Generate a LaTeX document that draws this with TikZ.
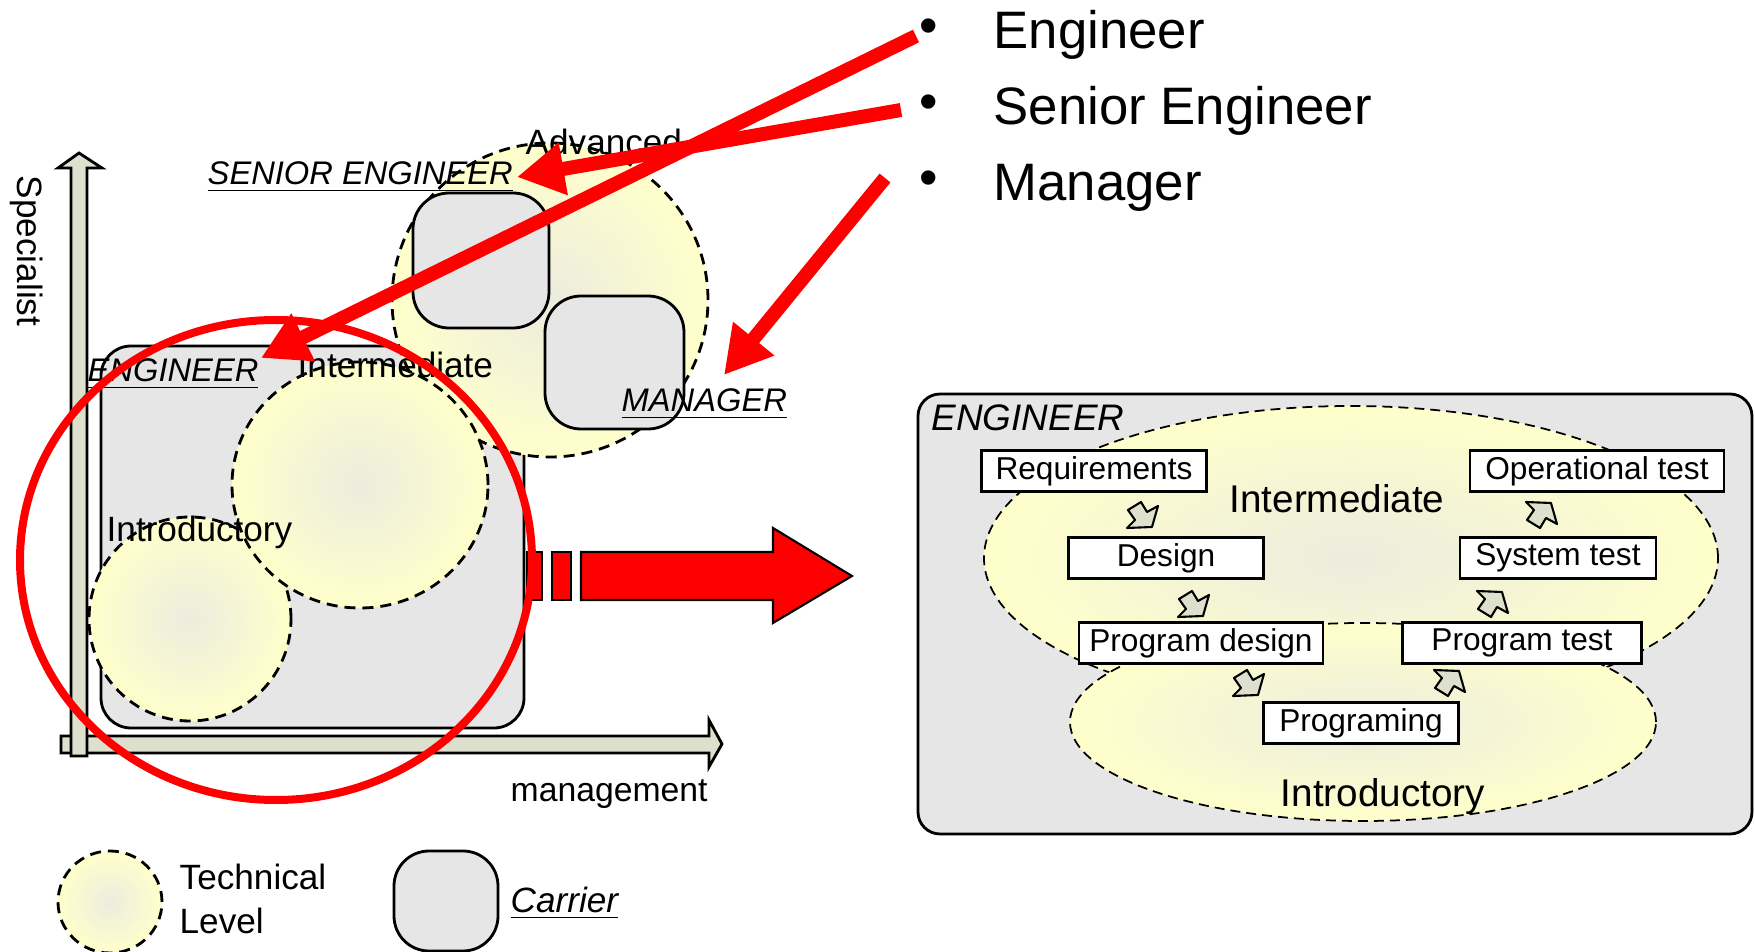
\documentclass[tikz,border=0pt]{standalone}
\usepackage{fontspec}
\setmainfont{Liberation Sans}
\usetikzlibrary{arrows.meta}
\definecolor{carriergray}{RGB}{230,230,230}
\definecolor{leveledge}{RGB}{255,255,204}
\definecolor{levelcore}{RGB}{236,236,222}
\definecolor{axisfill}{RGB}{221,224,204}
\tikzset{
  carrier/.style={draw, line width=0.8pt, fill=carriergray, rounded corners=3.6mm},
  level/.style={draw, line width=0.8pt, dash pattern=on 1.1mm off 0.7mm, inner color=levelcore, outer color=leveledge},
  levelthin/.style={draw, line width=0.5pt, dash pattern=on 1mm off 0.6mm, inner color=levelcore, outer color=leveledge},
  axis/.style={draw, line width=0.8pt, fill=axisfill},
  redarrow/.style={draw=red, line width=1.4mm, -{Triangle[length=4.7mm,width=5mm]}},
  blockred/.style={draw, line width=0.6pt, fill=red},
  stepbox/.style={draw, fill=white, line width=0.6pt, inner sep=0pt, minimum height=4.1mm, font=\fontsize{9}{10}\selectfont},
  rolelbl/.style={font=\fontsize{9.3}{11}\selectfont\itshape, inner sep=0pt, anchor=base west},
  lbl/.style={font=\fontsize{10}{12}\selectfont, inner sep=0pt, anchor=base west},
  bigitem/.style={font=\fontsize{15}{18}\selectfont, inner sep=0pt, anchor=base west},
  flow/.style={draw, line width=0.6pt, fill=axisfill, line join=round},
  pics/flowdn/.style={code={\path[flow] (-14,-5) -- (-1,-13) -- (5,-3) -- (16,-9) -- (10,12) -- (-15,13) -- (-7,5) -- cycle;}},
  pics/flowup/.style={code={\path[flow] (-14,5) -- (-1,13) -- (5,3) -- (16,9) -- (10,-12) -- (-15,-13) -- (-7,-5) -- cycle;}}
}
\newcommand{\roleline}[1]{\underline{#1}}
\begin{document}
\begin{tikzpicture}[x=0.1mm,y=-0.1mm]
        \useasboundingbox (0,0) rectangle (1755,952);

        \path[carrier, rounded corners=3mm] (101,346) rectangle (524,728);
        \path[level] (550,300) ellipse [x radius=15.8mm, y radius=15.7mm];
        \path[carrier] (413,193) rectangle (549,328);
        \path[carrier] (545,296) rectangle (684,429);
        \path[level] (190,619) ellipse [x radius=10.1mm, y radius=10.2mm];
        \path[level] (360,485) ellipse [x radius=12.8mm, y radius=12.3mm];

        \path[axis] (61,736) -- (709,736) -- (709,720) -- (722,744) -- (709,767) -- (709,753) -- (61,753) -- cycle;
        \path[axis] (71,756) -- (71,168) -- (58,168) -- (79,153) -- (102,168) -- (87,168) -- (87,756) -- cycle;

        \node[rolelbl] (lblSen) at (207,185) {\roleline{SENIOR ENGINEER}};
        \node[rolelbl] (lblEng) at (87,382) {\roleline{ENGINEER}};
        \node[rolelbl] (lblMan) at (621,412) {\roleline{MANAGER}};
        \node[lbl] (lblAdv) at (525,155) {Advanced};
        \node[lbl] (lblInt) at (297,378) {Intermediate};
        \node[lbl] (lblIntro) at (106,542) {Introductory};
        \node[lbl, font=\fontsize{9.6}{12}\selectfont] (lblMgmt) at (510,802) {management};
        \node[lbl, rotate=-90, anchor=center] (lblSpec) at (27,251) {Specialist};

        \path[level] (110,902) ellipse [x radius=5.2mm, y radius=5.1mm];
        \node[lbl] (lgTech) at (179,890) {Technical};
        \node[lbl] (lgLevel) at (179,933) {Level};
        \path[carrier, rounded corners=3.5mm] (394,851) rectangle (498,951);
        \node[lbl, font=\fontsize{10}{12}\selectfont\itshape] (lgCar) at (510,912) {\roleline{Carrier}};

        \path[blockred] (527,552) rectangle (542,600);
        \path[blockred] (552,552) rectangle (571,600);
        \path[blockred] (581,552) -- (773,552) -- (773,528) -- (852,576) -- (773,623) -- (773,600) -- (581,600) -- cycle;
        \draw[red, line width=0.8mm] (276,560) ellipse [x radius=25.6mm, y radius=24.0mm];

        \path[carrier, rounded corners=2.2mm] (918,394) rectangle (1752,834);
        \path[levelthin] (1351,558) ellipse [x radius=36.7mm, y radius=15.2mm];
        \path[levelthin] (1363,722) ellipse [x radius=29.3mm, y radius=9.9mm];
        \node[font=\fontsize{10.5}{12}\selectfont\itshape, inner sep=0pt, anchor=base west] (rEng) at (931,431) {ENGINEER};
        \node[font=\fontsize{11}{13}\selectfont, inner sep=0pt, anchor=base] (rInt) at (1337,513) {Intermediate};
        \node[font=\fontsize{11}{13}\selectfont, inner sep=0pt, anchor=base] (rIntro) at (1383,807) {Introductory};

        \node[stepbox, minimum width=22.5mm] (req)   at (1094,471) {Requirements};
        \node[stepbox, minimum width=19.5mm] (des)   at (1166,558) {Design};
        \node[stepbox, minimum width=24.4mm] (pdes)  at (1201,643) {Program design};
        \node[stepbox, minimum width=19.5mm] (prog)  at (1361,723) {Programing};
        \node[stepbox, minimum width=23.9mm] (ptest) at (1522,643) {Program test};
        \node[stepbox, minimum width=19.6mm] (stest) at (1558,558) {System test};
        \node[stepbox, minimum width=25.4mm] (otest) at (1597,471) {Operational test};

        \pic (f1) at (1142,515) {flowdn};
        \pic (f2) at (1193,604) {flowdn};
        \pic (f3) at (1248,683) {flowdn};
        \pic (f4) at (1449,683) {flowup};
        \pic (f5) at (1492,604) {flowup};
        \pic (f6) at (1541,515) {flowup};

        \node[font=\fontsize{15}{18}\selectfont, inner sep=0pt] (dEng) at (929,31) {•};
        \node[font=\fontsize{15}{18}\selectfont, inner sep=0pt] (dSen) at (929,107) {•};
        \node[font=\fontsize{15}{18}\selectfont, inner sep=0pt] (dMan) at (929,183) {•};
        \node[bigitem] (bEng) at (993,49) {Engineer};
        \node[bigitem] (bSen) at (993,125) {Senior Engineer};
        \node[bigitem] (bMan) at (993,201) {Manager};

        \coordinate (eStart) at (916,36);
        \coordinate (eTip)   at (261,358);
        \coordinate (sStart) at (901,110);
        \coordinate (sTip)   at (517,177);
        \coordinate (mStart) at (885,178);
        \coordinate (mTip)   at (724,375);
        \draw[redarrow] (eStart) -- (eTip);
        \draw[redarrow] (sStart) -- (sTip);
        \draw[redarrow] (mStart) -- (mTip);
\end{tikzpicture}
\end{document}
